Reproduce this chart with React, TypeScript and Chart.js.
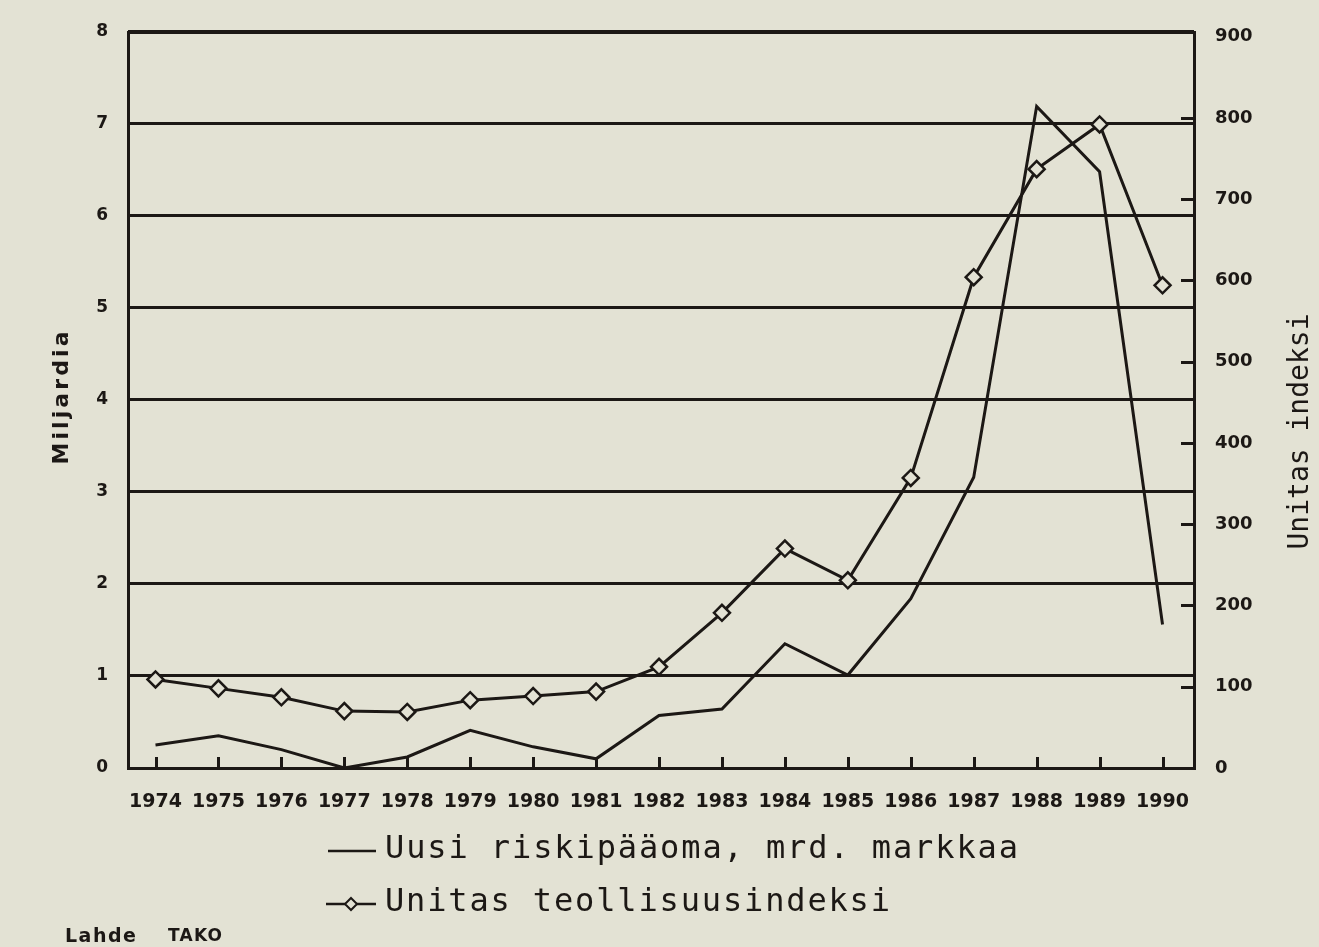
import React, { useEffect, useRef } from 'react';
import { Chart, registerables } from 'chart.js';

Chart.register(...registerables);

// ---------- data ----------
const years = [1974, 1975, 1976, 1977, 1978, 1979, 1980, 1981, 1982, 1983, 1984, 1985, 1986, 1987, 1988, 1989, 1990];
const riskCapital = [0.25, 0.35, 0.2, 0.0, 0.12, 0.41, 0.23, 0.1, 0.57, 0.64, 1.35, 1.01, 1.84, 3.16, 7.19, 6.48, 1.56];
const unitasIndex = [109, 98, 87, 70, 69, 83.5, 88.5, 94, 124.5, 191, 270, 231, 357, 604, 737, 792, 594];
const rightTicks = [0, 100, 200, 300, 400, 500, 600, 700, 800, 900];
const rightTickMarks = [100, 200, 300, 400, 500, 600, 700, 800];
const legendLabels = ['Uusi riskipääoma, mrd. markkaa', 'Unitas teollisuusindeksi'];
const leftTitle = 'Miljardia';
const rightTitle = 'Unitas indeksi';
const sourceLabel = 'Lahde';
const sourceValue = 'TAKO';

// ---------- styles ----------
const INK = '#1c1815';
const BG = '#e3e2d4';
const W = 1319;
const H = 947;
const AREA = { left: 128, top: 30, right: 1194, bottom: 768 };

function fitText(
  ctx: CanvasRenderingContext2D,
  text: string,
  cx: number,
  cy: number,
  width: number,
  font: string,
  mode: 'left' | 'center',
  rotate = 0
) {
  ctx.save();
  ctx.font = font;
  (ctx as any).letterSpacing = '0px';
  const w0 = ctx.measureText(text).width;
  const n = Array.from(text).length;
  const ls = n > 1 ? Math.max(0, (width - w0) / (n - 1)) : 0;
  (ctx as any).letterSpacing = ls + 'px';
  ctx.translate(cx, cy);
  ctx.rotate(rotate);
  ctx.textAlign = 'left';
  ctx.textBaseline = 'middle';
  ctx.fillStyle = INK;
  ctx.fillText(text, mode === 'center' ? -width / 2 : 0, 0);
  ctx.restore();
}

function diamond(ctx: CanvasRenderingContext2D, x: number, y: number, r: number) {
  ctx.beginPath();
  ctx.moveTo(x, y - r);
  ctx.lineTo(x + r, y);
  ctx.lineTo(x, y + r);
  ctx.lineTo(x - r, y);
  ctx.closePath();
  ctx.fillStyle = BG;
  ctx.fill();
  ctx.stroke();
}

const decorPlugin = {
  id: 'decor',
  beforeDraw(chart: any) {
    const ctx = chart.ctx as CanvasRenderingContext2D;
    ctx.save();
    ctx.fillStyle = BG;
    ctx.fillRect(0, 0, chart.width, chart.height);
    ctx.restore();
  },
  afterDatasetsDraw(chart: any) {
    const ctx = chart.ctx as CanvasRenderingContext2D;
    const { left, top, right, bottom } = chart.chartArea;
    const x = chart.scales.x;
    const y2 = chart.scales.y2;
    ctx.save();
    ctx.strokeStyle = INK;
    ctx.lineWidth = 3;
    ctx.lineCap = 'butt';
    years.forEach((yr) => {
      const px = Math.round(x.getPixelForValue(yr)) + 0.5;
      ctx.beginPath();
      ctx.moveTo(px, bottom);
      ctx.lineTo(px, bottom - 11);
      ctx.stroke();
    });
    rightTickMarks.forEach((v) => {
      const py = Math.round(y2.getPixelForValue(v)) + 0.5;
      ctx.beginPath();
      ctx.moveTo(right, py);
      ctx.lineTo(right - 13, py);
      ctx.stroke();
    });
    ctx.strokeRect(Math.round(left) + 0.5, Math.round(top) + 0.5, Math.round(right - left), Math.round(bottom - top));
    ctx.restore();
  },
  afterDraw(chart: any) {
    const ctx = chart.ctx as CanvasRenderingContext2D;
    fitText(ctx, leftTitle, 62, 398, 133, 'bold 22px "DejaVu Sans"', 'center', -Math.PI / 2);
    fitText(ctx, rightTitle, 1301, 432, 235, '28px "DejaVu Sans Mono"', 'center', -Math.PI / 2);

    ctx.save();
    ctx.strokeStyle = INK;
    ctx.lineWidth = 2.5;
    ctx.beginPath();
    ctx.moveTo(328, 851);
    ctx.lineTo(376, 851);
    ctx.stroke();
    ctx.beginPath();
    ctx.moveTo(326, 904);
    ctx.lineTo(376, 904);
    ctx.stroke();
    ctx.lineWidth = 2;
    diamond(ctx, 351, 904, 6);
    ctx.restore();
    fitText(ctx, legendLabels[0], 385, 850, 633, '32px "DejaVu Sans Mono"', 'left');
    fitText(ctx, legendLabels[1], 385, 903, 505, '32px "DejaVu Sans Mono"', 'left');

    fitText(ctx, sourceLabel, 65, 937, 71, 'bold 19px "DejaVu Sans"', 'left');
    fitText(ctx, sourceValue, 168, 937, 54, 'bold 17px "DejaVu Sans"', 'left');
  },
};

export default function App() {
  const ref = useRef<HTMLCanvasElement>(null);

  useEffect(() => {
    const canvas = ref.current;
    if (!canvas) return;
    const chart = new Chart(canvas, {
      type: 'line',
      data: {
        datasets: [
          {
            label: legendLabels[1],
            data: years.map((yr, i) => ({ x: yr, y: unitasIndex[i] })),
            yAxisID: 'y2',
            borderColor: INK,
            borderWidth: 3,
            pointStyle: 'rectRot',
            pointRadius: 8,
            pointBorderWidth: 2.5,
            pointBorderColor: INK,
            pointBackgroundColor: BG,
            tension: 0,
            order: 1,
          },
          {
            label: legendLabels[0],
            data: years.map((yr, i) => ({ x: yr, y: riskCapital[i] })),
            yAxisID: 'y',
            borderColor: INK,
            borderWidth: 3,
            pointRadius: 0,
            tension: 0,
            order: 2,
          },
        ],
      },
      options: {
        animation: false,
        responsive: false,
        devicePixelRatio: 1,
        layout: { padding: { top: AREA.top, left: 0, right: 0, bottom: 0 } },
        plugins: {
          legend: { display: false },
          tooltip: { enabled: false },
          title: { display: false },
        },
        scales: {
          x: {
            type: 'linear',
            min: 1973.563,
            max: 1990.5,
            afterBuildTicks: (s: any) => {
              s.ticks = years.map((v) => ({ value: v }));
            },
            afterFit: (s: any) => {
              s.height = H - AREA.bottom;
            },
            grid: { display: false },
            border: { display: false },
            ticks: {
              autoSkip: false,
              maxRotation: 0,
              minRotation: 0,
              padding: 15,
              color: INK,
              font: { family: '"DejaVu Sans"', size: 19, weight: 'bold' },
              callback: (v: any) => String(v),
            },
          },
          y: {
            type: 'linear',
            position: 'left',
            min: 0,
            max: 8,
            afterFit: (s: any) => {
              s.width = AREA.left;
            },
            grid: { color: INK, lineWidth: 3, drawTicks: false },
            border: { display: false },
            ticks: {
              stepSize: 1,
              padding: 20,
              color: INK,
              font: { family: '"DejaVu Sans"', size: 17, weight: 'bold' },
            },
          },
          y2: {
            type: 'linear',
            position: 'right',
            min: 0,
            max: 906,
            afterBuildTicks: (s: any) => {
              s.ticks = rightTicks.map((v) => ({ value: v }));
            },
            afterFit: (s: any) => {
              s.width = W - AREA.right;
            },
            grid: { display: false, drawTicks: false },
            border: { display: false },
            ticks: {
              padding: 21,
              color: INK,
              font: { family: '"DejaVu Sans"', size: 18, weight: 'bold' },
            },
          },
        },
      } as any,
      plugins: [decorPlugin],
    });
    return () => chart.destroy();
  }, []);

  return (
    <div style={{ position: 'fixed', left: 0, top: 0, width: W, height: H, background: BG }}>
      <canvas ref={ref} width={W} height={H} style={{ display: 'block', width: W, height: H }} />
    </div>
  );
}
